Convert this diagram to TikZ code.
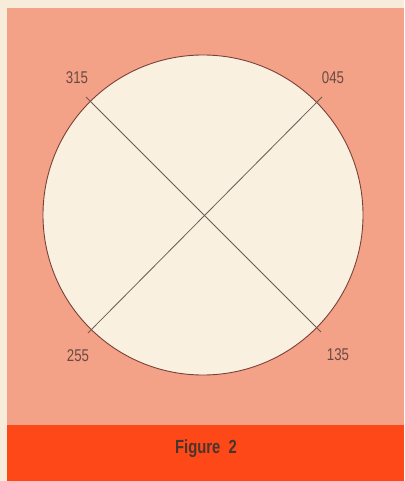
\documentclass[tikz,border=0pt]{standalone}
\usepackage{fontspec}
\setmainfont{Liberation Sans}
\newfontfamily\condfont[FakeStretch=0.78]{Liberation Sans}
\definecolor{cream}{HTML}{F6ECD9}
\definecolor{salmon}{HTML}{F4A287}
\definecolor{disc}{HTML}{FAF0E0}
\definecolor{redbar}{HTML}{FF4818}
\definecolor{inkline}{HTML}{6E5A55}
\definecolor{rim}{HTML}{7A4038}
\definecolor{labelink}{HTML}{6A4A42}
\begin{document}
\begin{tikzpicture}[x=1pt,y=-1pt,
  bearing/.style={font=\condfont\fontsize{17}{17}\selectfont, text=labelink, inner sep=0pt},
  axis/.style={draw=inkline, line width=0.8pt}]
\useasboundingbox (0,0) rectangle (404,481);
\fill[cream] (0,0) rectangle (404,481);
\fill[salmon] (7,8) rectangle (404,426);
\fill[redbar] (7,425) rectangle (404,481);
\node[circle, draw=rim, line width=0.9pt, fill=disc, minimum size=320pt, inner sep=0pt] (dial) at (203,215) {};
\coordinate (nw) at (86,97);
\coordinate (se) at (321,332);
\coordinate (ne) at (322,97);
\coordinate (sw) at (88,333);
\draw[axis] (nw) -- (se);
\draw[axis] (ne) -- (sw);
\node[bearing] (l315) at (77,78) {315};
\node[bearing] (l045) at (333,78) {045};
\node[bearing] (l255) at (78,356) {255};
\node[bearing] (l135) at (338,355) {135};
\node[font=\condfont\bfseries\fontsize{19}{19}\selectfont, text=labelink!70!black, inner sep=0pt] (cap) at (206,449) {Figure\ \ 2};
\end{tikzpicture}
\end{document}
